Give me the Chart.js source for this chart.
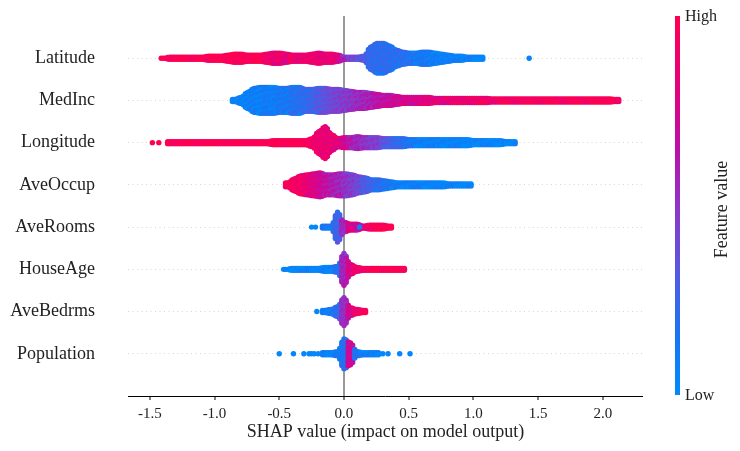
<!DOCTYPE html>
<html>
<head>
<meta charset="utf-8">
<script src="https://cdn.jsdelivr.net/npm/chart.js@4.4.0/dist/chart.umd.min.js"></script>
<style>
  html, body { margin: 0; padding: 0; background: #fff; }
</style>
</head>
<body>
<canvas id="shapChart" width="740" height="451"></canvas>
<script>
// Features, top to bottom
const features = ['Latitude', 'MedInc', 'Longitude', 'AveOccup', 'AveRooms', 'HouseAge', 'AveBedrms', 'Population'];
const xTicks = [-1.5, -1.0, -0.5, 0.0, 0.5, 1.0, 1.5, 2.0];

// Each row: start of the first 0.05-wide SHAP bin, swarm thickness per bin (dots stacked),
// mean feature value per bin (0 = low, 1 = high), plus lone outlier dots
const latStart = -1.42;
const latWidth = [1,2,2,2,2,2,2,3,3,3, 4,5,5,4,4,4,5,6,6,5, 4,4,4,5,6,5,5,4,2,2, 2,3,12,16,16,13,9,7,6,6, 7,7,6,5,4,3,3,2,2,2];
const latShade = [1,1,1,1,1,1,1,1,1,1, 1,1,1,1,1,1,0.9,0.85,0.88,0.82, 0.9,0.86,0.84,0.88,0.85,0.82,0.86,0.8,0.55,0.4,
                  0.35,0.3,0.22,0.2,0.2,0.2,0.18,0.18,0.15,0.12, 0.12,0.1,0.08,0.06,0.05,0.05,0.04,0.04,0.03,0.03];
const latDots = [1.43];
const latDotShade = [0.05];

const medStart = -0.87;
const medWidth = [2,4,9,13,14,14,14,13,13,14, 14,12,12,13,13,12,12,11,10,9, 9,8,7,6,6,5,4,4,4,4,
                  4,3,3,3,3,3,3,3,3,3, 2.5,2.5,2.5,2.5,2.5,2.5,2.5,2.5,2.5,2.5, 2.5,2.5,2.5,2.5,2.5,2.5,2.5,2.5,2.5,2];
const medShade = [0.02,0.05,0.06,0.08,0.06,0.1,0.08,0.12,0.12,0.15, 0.18,0.2,0.24,0.3,0.34,0.38,0.42,0.45,0.48,0.52,
                  0.55,0.58,0.62,0.65,0.68,0.7,0.72,0.75,0.76,0.78, 0.8,0.8,0.82,0.84,0.85,0.86,0.87,0.88,0.88,0.9,
                  0.9,0.91,0.92,0.92,0.93,0.93,0.94,0.94,0.95,0.95, 0.95,0.96,0.96,0.96,0.97,0.97,0.97,0.98,0.98,0.98];
const medDots = [];
const medDotShade = [];

const lonStart = -1.37;
const lonWidth = [2,2,2,2,2,2,2,2, 2,2,2,2,2,2,2,2, 3,3,3,3,3,3, 5,12,17,9, 5, 6,6,7,6,6,6, 5,5,5,5,
                  4,4,4,4,4,4,4,4,4,4, 3,3,3,3,3, 2,2];
const lonShade = [1,1,1,1,1,1,1,1,1,1, 1,1,1,1,1,1,1,1,1,1, 1,1, 0.9,0.86,0.85,0.84,0.82,
                  0.72,0.62,0.55,0.5,0.45,0.45, 0.35,0.3,0.22,0.18,
                  0.12,0.1,0.08,0.06,0.05,0.05,0.04,0.04,0.04,0.03, 0.03,0.03,0.03,0.02,0.02,0.02,0.02];
const lonDots = [-1.48, -1.43];
const lonDotShade = [1, 1];

const occStart = -0.46;
const occWidth = [3,7,10,11,12,13,11,11,12,12, 11,9,8,6,6,5,4,3,3,3, 3,3,3,3,3,2,2,2,2];
const occShade = [0.95,0.92,0.9,0.85,0.78,0.72,0.66,0.6,0.55,0.5, 0.45,0.38,0.3,0.25,0.2,0.15,0.12,0.1,0.08,0.06,
                  0.05,0.05,0.04,0.04,0.03,0.03,0.03,0.02,0.02];
const occDots = [];
const occDotShade = [];

const roomStart = -0.175;
const roomWidth = [2,2,16,6,4,4,2,3,3,3,2];
const roomShade = [0.1,0.15,0.25,0.55,0.75,0.72,0.8,0.95,1,1,1];
const roomDots = [-0.25, -0.22, 0.12];
const roomDotShade = [0.02, 0.02, 0.05];

const houseStart = -0.475;
const houseWidth = [1,2,2,2,2,2,3,3,4,17,6,3,2,2,2,2,2,2,2];
const houseShade = [0,0,0.02,0.02,0.03,0.04,0.05,0.08,0.15,0.55,0.78,0.88,0.95,0.98,1,1,1,1,1];
const houseDots = [];
const houseDotShade = [];

const bedStart = -0.175;
const bedWidth = [2,3,6,15,5,3,2];
const bedShade = [0.05,0.1,0.2,0.5,0.75,0.85,0.95];
const bedDots = [-0.21];
const bedDotShade = [0.03];

const popStart = -0.175;
const popWidth = [2,2,3,16,12,3,2,2,2];
const popShade = [0.05,0.05,0.1,0.15,0.7,0.15,0.05,0.05,0.05];
const popDots = [-0.50, -0.39, -0.31, -0.27, -0.25, -0.23, -0.20, 0.30, 0.34, 0.43, 0.51];
const popDotShade = [0.03,0.03,0.03,0.03,0.03,0.03,0.03,0.03,0.03,0.03,0.03];

// SHAP red-blue colour map
const cmapStops = [
  [0.00, 0, 139, 251],
  [0.15, 22, 118, 244],
  [0.30, 75, 94, 230],
  [0.45, 128, 64, 206],
  [0.55, 158, 40, 190],
  [0.65, 187, 16, 168],
  [0.80, 226, 0, 128],
  [1.00, 255, 0, 81]
];
function shadeColor(t) {
  t = Math.max(0, Math.min(1, t));
  for (let i = 1; i < cmapStops.length; i++) {
    const a = cmapStops[i - 1], b = cmapStops[i];
    if (t <= b[0]) {
      const f = (t - a[0]) / (b[0] - a[0]);
      const c = [1, 2, 3].map(k => Math.round(a[k] + (b[k] - a[k]) * f));
      return `rgb(${c[0]},${c[1]},${c[2]})`;
    }
  }
  return 'rgb(255,0,81)';
}

// swarm layout: each bin holds 3 columns of dots; side columns lean a little
// towards the neighbouring bin so the outline is not a staircase
const BIN = 0.05, COLS = 3, STEP = 0.047;
const tint = [0, 0.09, -0.06, 0.04, -0.1, 0.06, -0.03, 0.1, -0.08, 0.02, 0.07];
function buildRow(row, start, widths, shades, dotX, dotShade) {
  const pts = [], fills = [];
  const half = n => (n - 1) / 2 * STEP;
  widths.forEach((n, i) => {
    for (let c = 0; c < COLS; c++) {
      const x = start + BIN * (i + (c + 0.5) / COLS);
      let h = half(n);
      if (c === 0 && i > 0) h = 0.75 * h + 0.25 * half(widths[i - 1]);
      if (c === COLS - 1 && i < widths.length - 1) h = 0.75 * h + 0.25 * half(widths[i + 1]);
      const m = Math.max(1, Math.round(2 * h / STEP) + 1);
      for (let j = 0; j < m; j++) {
        const y = m === 1 ? row : row - h + j * (2 * h / (m - 1));
        pts.push({x: x, y: y});
        fills.push(shadeColor(shades[i] + tint[(i * 5 + c * 7 + j * 3) % tint.length]));
      }
    }
  });
  dotX.forEach((x, k) => {
    pts.push({x: x, y: row});
    fills.push(shadeColor(dotShade[k]));
  });
  return {pts, fills};
}

const rows = [
  buildRow(0, latStart, latWidth, latShade, latDots, latDotShade),
  buildRow(1, medStart, medWidth, medShade, medDots, medDotShade),
  buildRow(2, lonStart, lonWidth, lonShade, lonDots, lonDotShade),
  buildRow(3, occStart, occWidth, occShade, occDots, occDotShade),
  buildRow(4, roomStart, roomWidth, roomShade, roomDots, roomDotShade),
  buildRow(5, houseStart, houseWidth, houseShade, houseDots, houseDotShade),
  buildRow(6, bedStart, bedWidth, bedShade, bedDots, bedDotShade),
  buildRow(7, popStart, popWidth, popShade, popDots, popDotShade)
];

const serif = '"Liberation Serif", "Times New Roman", serif';
Chart.defaults.font.family = serif;
Chart.defaults.color = '#222';

// colour bar on the right
const colorBar = {
  id: 'colorBar',
  afterDraw(chart) {
    const {ctx, chartArea} = chart;
    const x = chartArea.right + 32, top = chartArea.top, bottom = chartArea.bottom - 1;
    const g = ctx.createLinearGradient(0, bottom, 0, top);
    cmapStops.forEach(s => g.addColorStop(s[0], `rgb(${s[1]},${s[2]},${s[3]})`));
    ctx.save();
    ctx.fillStyle = g;
    ctx.fillRect(x, top, 5, bottom - top);
    ctx.fillStyle = '#222';
    ctx.font = '16px ' + serif;
    ctx.textBaseline = 'middle';
    ctx.fillText('High', x + 10, top + 1);
    ctx.fillText('Low', x + 10, bottom + 1);
    ctx.translate(x + 47, (top + bottom) / 2 + 4);
    ctx.rotate(-Math.PI / 2);
    ctx.textAlign = 'center';
    ctx.font = '18px ' + serif;
    ctx.fillText('Feature value', 0, 0);
    ctx.restore();
  }
};

const shapChart = new Chart(document.getElementById('shapChart'), {
  type: 'scatter',
  data: {
    datasets: rows.map((r, i) => ({
      label: features[i],
      data: r.pts,
      pointBackgroundColor: r.fills,
      pointRadius: 2.7,
      pointHoverRadius: 2.7,
      pointBorderWidth: 0
    }))
  },
  options: {
    responsive: false,
    animation: false,
    events: [],
    layout: { padding: { top: 16, right: 97, bottom: 0, left: 0 } },
    plugins: { legend: { display: false }, tooltip: { enabled: false } },
    scales: {
      x: {
        type: 'linear',
        min: -1.668,
        max: 2.309,
        afterBuildTicks: s => { s.ticks = xTicks.map(v => ({value: v})); },
        afterFit: s => { s.height = 55; },
        ticks: { autoSkip: false, maxRotation: 0, padding: 5, color: '#222',
                 font: { size: 15 }, callback: v => v.toFixed(1) },
        grid: {
          color: c => (c.tick && c.tick.value === 0) ? '#999999' : 'rgba(0,0,0,0)',
          lineWidth: c => (c.tick && c.tick.value === 0) ? 2 : 0,
          tickColor: '#000', tickWidth: 1, tickLength: 4
        },
        border: { display: true, color: '#000', width: 1 },
        title: { display: true, text: 'SHAP value (impact on model output)', color: '#222',
                 font: { size: 18 }, padding: { top: 0, bottom: 8 } }
      },
      y: {
        type: 'linear',
        min: -1,
        max: 8,
        reverse: true,
        afterBuildTicks: s => { s.ticks = features.map((f, i) => ({value: i})); },
        afterFit: s => { s.width = 128; s.paddingTop = 0; s.paddingBottom = 0; },
        ticks: { autoSkip: false, padding: 33, color: '#222', font: { size: 18 },
                 callback: v => features[v] },
        grid: { color: '#cccccc', lineWidth: 0.8, drawTicks: false },
        border: { display: false, dash: [1, 3.5] }
      }
    }
  },
  plugins: [colorBar]
});
</script>
</body>
</html>
